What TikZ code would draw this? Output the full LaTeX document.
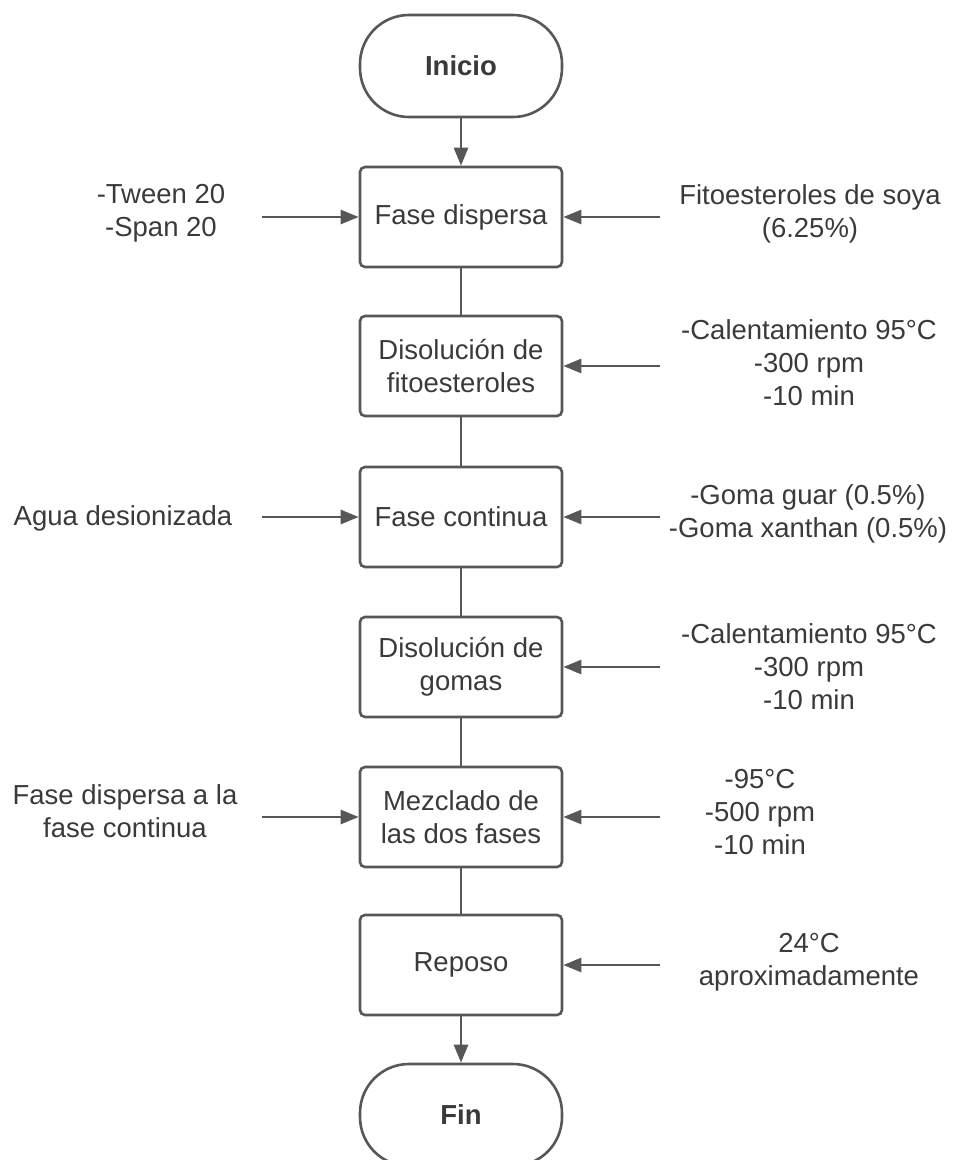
\documentclass[tikz,border=0pt]{standalone}
\usepackage{fontspec}
\setmainfont{Liberation Sans}
\usetikzlibrary{arrows.meta}
\definecolor{linegray}{HTML}{575757}
\definecolor{textgray}{HTML}{3A3A3A}
\tikzset{
    stepbox/.style={draw=linegray, line width=2.6pt, rounded corners=5pt, minimum width=202pt, minimum height=100pt, inner sep=0pt, align=center, text=textgray, font=\fontsize{27.5}{33}\selectfont},
    endbox/.style={stepbox, rounded corners=49pt, minimum height=102pt, font=\fontsize{27.5}{33}\selectfont\bfseries},
    note/.style={align=center, text=textgray, inner sep=0pt, font=\fontsize{27.5}{33}\selectfont},
    flow/.style={draw=linegray, line width=2.6pt},
    flowarrow/.style={flow, -{Triangle[length=18pt,width=14pt]}},
}

\begin{document}
\begin{tikzpicture}[x=1pt,y=-1pt]
            \useasboundingbox (0,0) rectangle (953,1160);
            \clip (0,0) rectangle (953,1160);
            % main column
            \node[endbox] (inicio) at (461,66) {Inicio};
            \node[stepbox] (dispersa) at (461,217) {Fase dispersa};
            \node[stepbox] (disfito) at (461,366) {Disolución de\\fitoesteroles};
            \node[stepbox] (continua) at (461,517) {Fase continua};
            \node[stepbox] (disgomas) at (461,667) {Disolución de\\gomas};
            \node[stepbox] (mezclado) at (461,817) {Mezclado de\\las dos fases};
            \node[stepbox] (reposo) at (461,965) {Reposo};
            \node[endbox] (fin) at (461,1115) {Fin};
            % side notes
            \node[note] (tween) at (161,213) {-Tween 20\\-Span 20};
            \node[note] (agua) at (123,518) {Agua desionizada};
            \node[note] (fasemix) at (125,811) {Fase dispersa a la\\fase continua};
            \node[note] (soya) at (810,214) {Fitoesteroles de soya\\(6.25\%)};
            \node[note] (calorfito) at (809,363) {-Calentamiento 95°C\\-300 rpm\\-10 min};
            \node[note] (gomas) at (808,514) {-Goma guar (0.5\%)\\-Goma xanthan (0.5\%)};
            \node[note] (calorgomas) at (809,667) {-Calentamiento 95°C\\-300 rpm\\-10 min};
            \node[note] (mezcla) at (760,812) {-95°C\\-500 rpm\\-10 min};
            \node[note] (ambiente) at (809,962) {24°C\\aproximadamente};
            % free ends of the side arrows
            \coordinate (tweenin) at (262,217);
            \coordinate (aguain) at (262,517);
            \coordinate (fasemixin) at (262,817);
            \coordinate (soyain) at (660,217);
            \coordinate (calorfitoin) at (660,366);
            \coordinate (gomasin) at (660,517);
            \coordinate (calorgomasin) at (660,667);
            \coordinate (mezclain) at (660,817);
            \coordinate (ambientein) at (660,965);
            % connectors
            \draw[flowarrow] (inicio) -- (dispersa);
            \draw[flow] (dispersa) -- (disfito);
            \draw[flow] (disfito) -- (continua);
            \draw[flow] (continua) -- (disgomas);
            \draw[flow] (disgomas) -- (mezclado);
            \draw[flow] (mezclado) -- (reposo);
            \draw[flowarrow] (reposo) -- (fin);
            \draw[flowarrow] (tweenin) -- (dispersa.west);
            \draw[flowarrow] (aguain) -- (continua.west);
            \draw[flowarrow] (fasemixin) -- (mezclado.west);
            \draw[flowarrow] (soyain) -- (dispersa.east);
            \draw[flowarrow] (calorfitoin) -- (disfito.east);
            \draw[flowarrow] (gomasin) -- (continua.east);
            \draw[flowarrow] (calorgomasin) -- (disgomas.east);
            \draw[flowarrow] (mezclain) -- (mezclado.east);
            \draw[flowarrow] (ambientein) -- (reposo.east);
        \end{tikzpicture}
\end{document}
